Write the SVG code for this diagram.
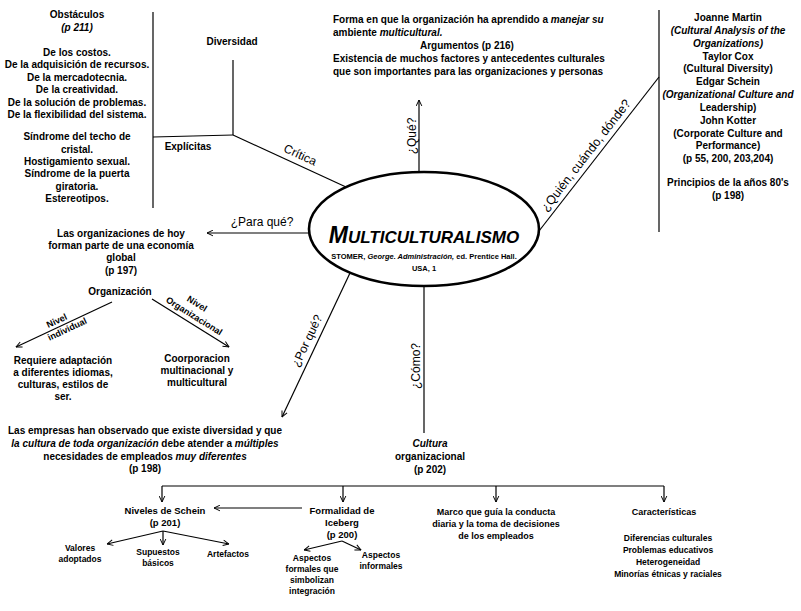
<svg xmlns="http://www.w3.org/2000/svg" width="801" height="611" viewBox="0 0 801 611">
<defs>
<style>
text{font-family:"Liberation Sans",Arial,sans-serif;fill:#000}
.t{font-size:10px;font-weight:bold;text-anchor:middle}
.s{font-size:9.5px;font-weight:bold;text-anchor:middle}
.xs{font-size:8.5px;font-weight:bold;text-anchor:middle}
.n{font-size:9px;font-weight:bold;text-anchor:middle}
.l{font-size:12px;text-anchor:middle}
.st{text-anchor:start}
.i{font-style:italic}
.ln{stroke:#000;stroke-width:1.2;fill:none}
.ar{stroke:#000;stroke-width:1.2;fill:none;marker-end:url(#arr)}
</style>
<marker id="arr" viewBox="0 0 10 10" refX="9.5" refY="5" markerWidth="7" markerHeight="7" markerUnits="userSpaceOnUse" orient="auto">
<path d="M1,1 L9.5,5 L1,9" fill="none" stroke="#000" stroke-width="1.4"/>
</marker>
</defs>
<rect width="801" height="611" fill="#fff"/>

<g id="connectors">
<line class="ln" x1="153" y1="12" x2="153" y2="208"/>
<line class="ln" x1="153" y1="137" x2="233" y2="135"/>
<line class="ln" x1="233" y1="60" x2="233" y2="135"/>
<line class="ln" x1="233" y1="135" x2="346" y2="187"/>
<line class="ar" x1="309" y1="233" x2="207" y2="233"/>
<line class="ar" x1="112" y1="302" x2="16" y2="347"/>
<line class="ar" x1="152" y1="299" x2="229" y2="347"/>
<line class="ar" x1="350" y1="273" x2="282" y2="417"/>
<line class="ln" x1="424" y1="286" x2="424" y2="433"/>
<line class="ar" x1="419" y1="172" x2="419" y2="100"/>
<line class="ln" x1="539" y1="231" x2="659" y2="77"/>
<line class="ln" x1="659" y1="10" x2="659" y2="232"/>
<line class="ln" x1="162" y1="486" x2="664" y2="486"/>
<line class="ar" x1="162" y1="486" x2="162" y2="502"/>
<line class="ar" x1="343" y1="486" x2="343" y2="502"/>
<line class="ar" x1="496" y1="486" x2="496" y2="502"/>
<line class="ar" x1="664" y1="486" x2="664" y2="502"/>
<line class="ar" x1="302" y1="508" x2="214" y2="508"/>
<line class="ar" x1="163" y1="531" x2="107" y2="544"/>
<line class="ar" x1="163" y1="531" x2="163" y2="545"/>
<line class="ar" x1="163" y1="531" x2="229" y2="544"/>
<line class="ar" x1="342" y1="541" x2="304" y2="550"/>
<line class="ar" x1="342" y1="541" x2="361" y2="550"/>
<text class="l" transform="translate(296,164) rotate(24.7)" y="-6">Crítica</text>
<text class="l" x="262" y="226">¿Para qué?</text>
<text class="l" transform="translate(416,136) rotate(-90)">¿Qué?</text>
<text class="l" transform="translate(420,366) rotate(-90)">¿Cómo?</text>
<text class="l" transform="translate(316,345) rotate(-64.7)" y="-6">¿Por qué?</text>
<text class="l" style="font-size:12.5px" transform="translate(593,161) rotate(-52.1)" y="-5">¿Quién, cuándo, dónde?</text>
<g transform="translate(62,325) rotate(-25.1)">
<text class="n" x="-3" y="-3">Nivel</text>
<text class="n" x="3" y="9">individual</text>
</g>
<g transform="translate(195,326) rotate(31.9)">
<text class="n" x="-10" y="-17">Nivel</text>
<text class="n" x="-6" y="-5">Organizacional</text>
</g>
</g>

<g id="center">
<ellipse cx="424" cy="229" rx="115" ry="57" fill="none" stroke="#000" stroke-width="2.6"/>
<text x="424" y="243" style="font-weight:bold;font-style:italic;text-anchor:middle"><tspan style="font-size:23px">M</tspan><tspan style="font-size:17px">ULTICULTURALISMO</tspan></text>
<text x="424" y="258.5" style="font-size:7.5px;font-weight:bold;text-anchor:middle">STOMER, <tspan class="i">George. Administración,</tspan> ed. Prentice Hall.</text>
<text x="424" y="270.5" style="font-size:7.5px;font-weight:bold;text-anchor:middle">USA, 1</text>
</g>

<g id="obstaculos">
<text class="t" x="77" y="18">Obstáculos</text>
<text class="t i" x="77" y="31">(p 211)</text>
<text class="t" x="77" y="56">De los costos.</text>
<text class="t" x="77" y="68">De la adquisición de recursos.</text>
<text class="t" x="77" y="81">De la mercadotecnia.</text>
<text class="t" x="77" y="93">De la creatividad.</text>
<text class="t" x="77" y="106">De la solución de problemas.</text>
<text class="t" x="77" y="118">De la flexibilidad del sistema.</text>
<text class="t" x="77" y="140">Síndrome del techo de</text>
<text class="t" x="77" y="153">cristal.</text>
<text class="t" x="77" y="165">Hostigamiento sexual.</text>
<text class="t" x="77" y="177">Síndrome de la puerta</text>
<text class="t" x="77" y="190">giratoria.</text>
<text class="t" x="77" y="202">Estereotipos.</text>
</g>

<g id="diversidad"><text class="t" x="232" y="45">Diversidad</text></g>
<g id="explicitas"><text class="t" x="188" y="150">Explícitas</text></g>

<g id="que-texto">
<text class="t st" x="333" y="22.5">Forma en que la organización ha aprendido a <tspan class="i">manejar su</tspan></text>
<text class="t st" x="333" y="35.5">ambiente <tspan class="i">multicultural.</tspan></text>
<text class="t st" x="420" y="48.5">Argumentos (p 216)</text>
<text class="t st" x="333" y="62">Existencia de muchos factores y antecedentes culturales</text>
<text class="t st" x="333" y="74.5">que son importantes para las organizaciones y personas</text>
</g>

<g id="autores">
<text class="t" x="728" y="21">Joanne Martin</text>
<text class="t i" x="728" y="34">(Cultural Analysis of the</text>
<text class="t i" x="728" y="47">Organizations)</text>
<text class="t" x="728" y="60">Taylor Cox</text>
<text class="t" x="728" y="72">(Cultural Diversity)</text>
<text class="t" x="728" y="85">Edgar Schein</text>
<text class="t i" x="728" y="98">(Organizational Culture and</text>
<text class="t" x="728" y="111">Leadership)</text>
<text class="t" x="728" y="124">John Kotter</text>
<text class="t" x="728" y="137">(Corporate Culture and</text>
<text class="t" x="728" y="149">Performance)</text>
<text class="t" x="728" y="162">(p 55, 200, 203,204)</text>
<text class="t" x="728" y="186">Principios de la años 80's</text>
<text class="t" x="728" y="199">(p 198)</text>
</g>

<g id="para-que">
<text class="t" x="121" y="236.5">Las organizaciones de hoy</text>
<text class="t" x="121" y="248.5">forman parte de una economía</text>
<text class="t" x="121" y="260.5">global</text>
<text class="t" x="121" y="273.5">(p 197)</text>
</g>
<g id="organizacion"><text class="t" x="120" y="294.5">Organización</text></g>
<g id="requiere">
<text class="t" x="63" y="363.5">Requiere adaptación</text>
<text class="t" x="63" y="375.5">a diferentes idiomas,</text>
<text class="t" x="63" y="387.5">culturas, estilos de</text>
<text class="t" x="63" y="399.5">ser.</text>
</g>
<g id="coorporacion">
<text class="t" x="197" y="361.5">Coorporacion</text>
<text class="t" x="197" y="373.5">multinacional y</text>
<text class="t" x="197" y="385.5">multicultural</text>
</g>

<g id="por-que">
<text class="t" x="145" y="433.5">Las empresas han observado que existe diversidad y que</text>
<text class="t" x="145" y="446.5"><tspan class="i">la cultura de toda organización</tspan> debe atender a <tspan class="i">múltiples</tspan></text>
<text class="t" x="145" y="459.5">necesidades de empleados <tspan class="i">muy diferentes</tspan></text>
<text class="t" x="145" y="471.5">(p 198)</text>
</g>

<g id="cultura">
<text class="t i" x="430" y="446.5">Cultura</text>
<text class="t" x="430" y="459.5">organizacional</text>
<text class="t" x="430" y="472.5">(p 202)</text>
</g>

<g id="niveles">
<text class="s" x="165" y="513.5">Niveles de Schein</text>
<text class="s" x="165" y="525.5">(p 201)</text>
</g>
<g id="iceberg">
<text class="s" x="342" y="513.5">Formalidad de</text>
<text class="s" x="342" y="525.5">Iceberg</text>
<text class="s" x="342" y="537.5">(p 200)</text>
</g>
<g id="marco">
<text class="n" x="496" y="514.5">Marco que guía la conducta</text>
<text class="n" x="496" y="526.5">diaria y la toma de decisiones</text>
<text class="n" x="496" y="538.5">de los empleados</text>
</g>
<g id="caracteristicas">
<text class="n" x="664" y="514.5">Características</text>
<text class="xs" x="668" y="540.5">Diferencias culturales</text>
<text class="xs" x="668" y="552.5">Problemas educativos</text>
<text class="xs" x="668" y="564.5">Heterogeneidad</text>
<text class="xs" x="668" y="576.5">Minorías étnicas y raciales</text>
</g>
<g id="valores">
<text class="xs" x="80" y="551">Valores</text>
<text class="xs" x="80" y="562">adoptados</text>
</g>
<g id="supuestos">
<text class="xs" x="158" y="555">Supuestos</text>
<text class="xs" x="158" y="566">básicos</text>
</g>
<g id="artefactos"><text class="xs" x="228" y="557">Artefactos</text></g>
<g id="formales">
<text class="xs" x="312" y="561">Aspectos</text>
<text class="xs" x="312" y="572">formales que</text>
<text class="xs" x="312" y="583">simbolizan</text>
<text class="xs" x="312" y="594">integración</text>
</g>
<g id="informales">
<text class="xs" x="381" y="558">Aspectos</text>
<text class="xs" x="381" y="569">informales</text>
</g>
</svg>
